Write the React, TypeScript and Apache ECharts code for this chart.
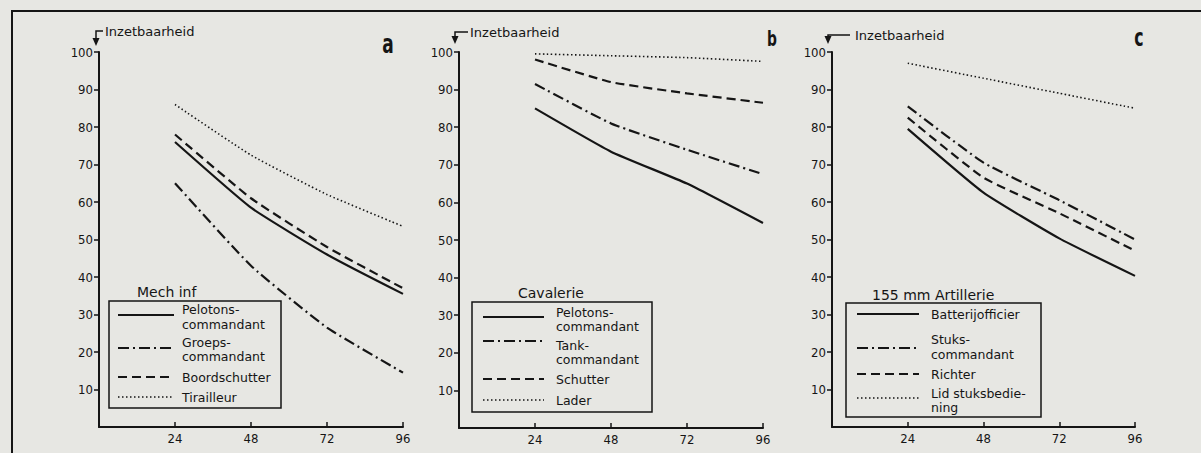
import React, { useEffect, useRef } from "react";
import * as echarts from "echarts";

// ---- data ----
const hours = [24, 48, 72, 96];
const yTicks = [10, 20, 30, 40, 50, 60, 70, 80, 90, 100];
const xTicks = [24, 48, 72, 96];

// Panel a: Mech inf
const mechPelotons = [76, 58.5, 46, 35.5];
const mechGroeps = [65, 43, 26.5, 14.5];
const mechBoord = [78, 61, 48, 37];
const mechTirailleur = [86, 72.5, 62, 53.5];

// Panel b: Cavalerie
const cavPelotons = [85, 73.5, 65, 54.5];
const cavTank = [91.5, 81, 74, 67.5];
const cavSchutter = [98, 92, 89, 86.5];
const cavLader = [99.5, 99, 98.5, 97.5];

// Panel c: 155 mm Artillerie
const artBatterij = [79.5, 62.5, 50.3, 40.3];
const artStuks = [85.5, 70.5, 60.5, 50];
const artRichter = [82.5, 66.5, 57, 47];
const artLid = [97, 93, 89, 85];

const yTitle = "Inzetbaarheid";
const panelLetters = ["a", "b", "c"];
const legendTitles = ["Mech inf", "Cavalerie", "155 mm Artillerie"];
const legendLabels = [
  [["Pelotons-", "commandant"], ["Groeps-", "commandant"], ["Boordschutter"], ["Tirailleur"]],
  [["Pelotons-", "commandant"], ["Tank-", "commandant"], ["Schutter"], ["Lader"]],
  [["Batterijofficier"], ["Stuks-", "commandant"], ["Richter"], ["Lid stuksbedie-", "ning"]],
];
const panelSeries = [
  [mechPelotons, mechGroeps, mechBoord, mechTirailleur],
  [cavPelotons, cavTank, cavSchutter, cavLader],
  [artBatterij, artStuks, artRichter, artLid],
];

// ---- styles / layout ----
const INK = "#151515";
const BG = "#e7e7e3";
const FONT = "DejaVu Sans";
const lineStyles = [
  { type: "solid", width: 2.2 },
  { type: [11, 4, 2, 4], width: 2.2 },
  { type: [9, 5], width: 2.2 },
  { type: [1.5, 2.5], width: 1.6 },
];

const grids = [
  { left: 99, top: 52, width: 304, height: 375 },
  { left: 459, top: 52, width: 304, height: 376 },
  { left: 832, top: 52, width: 303, height: 375 },
];

const titleLayout = [
  { ax: 96, hy: 31, hx1: 103, tip: 46, tx: 105, ty: 31 },
  { ax: 455, hy: 32, hx1: 468, tip: 44, tx: 470, ty: 32 },
  { ax: 828, hy: 35, hx1: 850, tip: 44, tx: 855, ty: 35 },
];
const letterLayout = [
  { x: 388, y: 43, size: 27 },
  { x: 772, y: 38, size: 22 },
  { x: 1139, y: 37, size: 25 },
];

// entries: [sample line y, text centre y]
const LEG_FS = 12.5;
const LEG_LH = 14.5;
const legendLayout = [
  {
    box: [109, 301, 281, 408], title: [137, 292], lx: [118, 174], tx: 182,
    entries: [[315, 317], [348, 349.5], [377, 377], [397, 397]],
  },
  {
    box: [472, 302, 652, 412], title: [518, 293], lx: [483, 544], tx: 556,
    entries: [[317, 319.5], [341, 352.5], [379, 379], [400, 400]],
  },
  {
    box: [846, 303, 1041, 417], title: [872, 295], lx: [857, 919], tx: 931,
    entries: [[314, 314], [348, 347], [374, 374], [398, 400.5]],
  },
];

function txt(text: string, x: number, y: number, size: number, extra: any = {}) {
  return {
    type: "text",
    x,
    y,
    silent: true,
    ...extra.el,
    style: {
      text,
      fontSize: size,
      fontFamily: FONT,
      fill: INK,
      textAlign: "left",
      textVerticalAlign: "middle",
      verticalAlign: "middle",
      ...(extra.style || {}),
    },
  };
}

export default function App() {
  const ref = useRef<HTMLDivElement>(null);
  useEffect(() => {
    document.body.style.margin = "0";
    document.body.style.background = BG;
    const chart = echarts.init(ref.current!, undefined, { renderer: "svg" });

    const xAxis = grids.map((_, i) => ({
      type: "value",
      gridIndex: i,
      min: 0,
      max: 96,
      interval: 24,
      splitLine: { show: false },
      axisLine: { show: true, onZero: false, lineStyle: { color: INK, width: 2 } },
      axisTick: { show: true, inside: true, length: 5, customValues: xTicks, lineStyle: { color: INK, width: 1.5 } },
      axisLabel: { customValues: xTicks, color: INK, fontSize: 13, fontFamily: "DejaVu Sans Condensed", margin: 5 },
    }));
    const yAxis = grids.map((_, i) => ({
      type: "value",
      gridIndex: i,
      min: 0,
      max: 100,
      interval: 10,
      splitLine: { show: false },
      axisLine: { show: true, onZero: false, lineStyle: { color: INK, width: 2 } },
      axisTick: { show: true, length: 5, customValues: yTicks, lineStyle: { color: INK, width: 1.5 } },
      axisLabel: { customValues: yTicks, color: INK, fontSize: 13, fontFamily: "DejaVu Sans Condensed", margin: 6 },
    }));

    const series: any[] = [];
    panelSeries.forEach((group, gi) => {
      group.forEach((vals, si) => {
        series.push({
          type: "line",
          name: legendLabels[gi][si].join(" "),
          xAxisIndex: gi,
          yAxisIndex: gi,
          data: hours.map((h, k) => [h, vals[k]]),
          symbol: "none",
          smooth: 0.15,
          lineStyle: { color: INK, ...lineStyles[si] },
          silent: true,
        });
      });
    });

    const graphic: any[] = [];
    // frame
    graphic.push({
      type: "polyline",
      silent: true,
      shape: { points: [[12, 453], [12, 11], [1201, 11]] },
      style: { stroke: INK, lineWidth: 2, fill: "none" },
    });
    titleLayout.forEach((t) => {
      graphic.push({
        type: "polyline",
        silent: true,
        shape: { points: [[t.hx1, t.hy], [t.ax, t.hy], [t.ax, t.tip - 6]] },
        style: { stroke: INK, lineWidth: 1.5, fill: "none" },
      });
      graphic.push({
        type: "polygon",
        silent: true,
        shape: { points: [[t.ax - 3.5, t.tip - 8], [t.ax + 3.5, t.tip - 8], [t.ax, t.tip]] },
        style: { fill: INK },
      });
      graphic.push(txt(yTitle, t.tx, t.ty, 13));
    });
    letterLayout.forEach((l, i) => {
      graphic.push(
        txt(panelLetters[i], l.x, l.y, l.size, {
          el: { scaleX: 0.7, originX: 0, originY: 0 },
          style: { fontWeight: "bold", textAlign: "center", fontFamily: "DejaVu Sans Condensed" },
        })
      );
    });
    legendLayout.forEach((L, gi) => {
      const [x0, y0, x1, y1] = L.box;
      graphic.push({
        type: "rect",
        silent: true,
        shape: { x: x0, y: y0, width: x1 - x0, height: y1 - y0 },
        style: { stroke: INK, lineWidth: 1.5, fill: "none" },
      });
      graphic.push(txt(legendTitles[gi], L.title[0], L.title[1], 14));
      L.entries.forEach((e, si) => {
        const ls = lineStyles[si];
        graphic.push({
          type: "line",
          silent: true,
          shape: { x1: L.lx[0], y1: e[0], x2: L.lx[1], y2: e[0] },
          style: {
            stroke: INK,
            lineWidth: ls.width,
            lineDash: ls.type === "solid" ? null : ls.type,
          },
        });
        graphic.push(
          txt(legendLabels[gi][si].join("\n"), L.tx, e[1], LEG_FS, {
            style: { lineHeight: LEG_LH },
          })
        );
      });
    });

    chart.setOption({
      animation: false,
      backgroundColor: BG,
      grid: grids.map((g) => ({ ...g, containLabel: false })),
      xAxis,
      yAxis,
      series,
      graphic,
    });
    return () => chart.dispose();
  }, []);
  return <div ref={ref} style={{ width: 1201, height: 453 }} />;
}
